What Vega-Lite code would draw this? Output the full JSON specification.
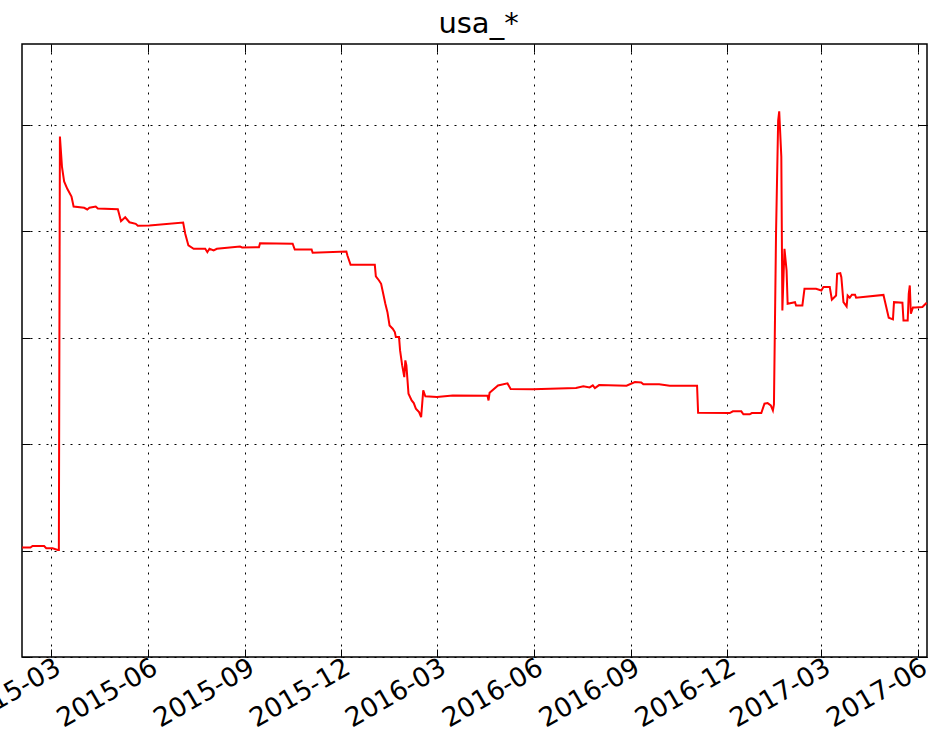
{
  "$schema": "https://vega.github.io/schema/vega-lite/v6.json",
  "width": 905,
  "height": 613,
  "autosize": {"type": "none"},
  "padding": {"left": 22, "top": 44, "right": 8, "bottom": 75},
  "background": "white",
  "title": {"text": "usa_*", "fontSize": 29, "font": "DejaVu Sans", "fontWeight": "normal", "color": "black", "anchor": "middle", "baseline": "alphabetic", "offset": -18, "dx": 4, "frame": "group"},
  "config": {
    "view": {"stroke": "black", "strokeWidth": 1.5},
    "axis": {"domain": false, "labelFont": "DejaVu Sans", "labelFontSize": 26.5, "labelColor": "black", "tickColor": "black", "tickWidth": 1, "tickSize": -8, "gridColor": "black", "gridOpacity": 1, "gridWidth": 1, "gridDash": [2, 6], "title": null}
  },
  "data": {"values": [
    {"date": "2015-02-01", "value": 1.028},
    {"date": "2015-02-09", "value": 1.028},
    {"date": "2015-02-11", "value": 1.043},
    {"date": "2015-02-22", "value": 1.043},
    {"date": "2015-02-24", "value": 1.022},
    {"date": "2015-03-02", "value": 1.022},
    {"date": "2015-03-07", "value": 1.006},
    {"date": "2015-03-08", "value": 1.006},
    {"date": "2015-03-09", "value": 4.890},
    {"date": "2015-03-11", "value": 4.602},
    {"date": "2015-03-13", "value": 4.468},
    {"date": "2015-03-16", "value": 4.399},
    {"date": "2015-03-20", "value": 4.327},
    {"date": "2015-03-22", "value": 4.233},
    {"date": "2015-04-01", "value": 4.221},
    {"date": "2015-04-04", "value": 4.205},
    {"date": "2015-04-06", "value": 4.221},
    {"date": "2015-04-12", "value": 4.233},
    {"date": "2015-04-14", "value": 4.214},
    {"date": "2015-05-03", "value": 4.208},
    {"date": "2015-05-06", "value": 4.095},
    {"date": "2015-05-10", "value": 4.132},
    {"date": "2015-05-14", "value": 4.085},
    {"date": "2015-05-20", "value": 4.070},
    {"date": "2015-05-22", "value": 4.052},
    {"date": "2015-06-02", "value": 4.054},
    {"date": "2015-07-04", "value": 4.083},
    {"date": "2015-07-06", "value": 3.977},
    {"date": "2015-07-09", "value": 3.867},
    {"date": "2015-07-14", "value": 3.836},
    {"date": "2015-07-25", "value": 3.836},
    {"date": "2015-07-27", "value": 3.804},
    {"date": "2015-07-29", "value": 3.836},
    {"date": "2015-08-02", "value": 3.820},
    {"date": "2015-08-05", "value": 3.836},
    {"date": "2015-08-27", "value": 3.857},
    {"date": "2015-08-29", "value": 3.848},
    {"date": "2015-09-14", "value": 3.851},
    {"date": "2015-09-15", "value": 3.888},
    {"date": "2015-10-16", "value": 3.883},
    {"date": "2015-10-18", "value": 3.829},
    {"date": "2015-11-03", "value": 3.829},
    {"date": "2015-11-04", "value": 3.798},
    {"date": "2015-12-06", "value": 3.810},
    {"date": "2015-12-07", "value": 3.773},
    {"date": "2015-12-10", "value": 3.685},
    {"date": "2016-01-02", "value": 3.685},
    {"date": "2016-01-03", "value": 3.576},
    {"date": "2016-01-06", "value": 3.538},
    {"date": "2016-01-08", "value": 3.507},
    {"date": "2016-01-10", "value": 3.413},
    {"date": "2016-01-12", "value": 3.319},
    {"date": "2016-01-14", "value": 3.240},
    {"date": "2016-01-16", "value": 3.115},
    {"date": "2016-01-19", "value": 3.085},
    {"date": "2016-01-21", "value": 3.053},
    {"date": "2016-01-22", "value": 3.006},
    {"date": "2016-01-25", "value": 3.006},
    {"date": "2016-01-26", "value": 2.881},
    {"date": "2016-01-28", "value": 2.740},
    {"date": "2016-01-30", "value": 2.630},
    {"date": "2016-01-31", "value": 2.787},
    {"date": "2016-02-01", "value": 2.740},
    {"date": "2016-02-03", "value": 2.474},
    {"date": "2016-02-06", "value": 2.411},
    {"date": "2016-02-08", "value": 2.386},
    {"date": "2016-02-10", "value": 2.333},
    {"date": "2016-02-13", "value": 2.301},
    {"date": "2016-02-15", "value": 2.254},
    {"date": "2016-02-17", "value": 2.505},
    {"date": "2016-02-19", "value": 2.449},
    {"date": "2016-03-01", "value": 2.442},
    {"date": "2016-03-16", "value": 2.458},
    {"date": "2016-04-18", "value": 2.454},
    {"date": "2016-04-19", "value": 2.411},
    {"date": "2016-04-20", "value": 2.482},
    {"date": "2016-04-28", "value": 2.552},
    {"date": "2016-05-07", "value": 2.571},
    {"date": "2016-05-10", "value": 2.519},
    {"date": "2016-05-31", "value": 2.515},
    {"date": "2016-07-11", "value": 2.527},
    {"date": "2016-07-18", "value": 2.543},
    {"date": "2016-07-24", "value": 2.533},
    {"date": "2016-07-27", "value": 2.552},
    {"date": "2016-07-29", "value": 2.527},
    {"date": "2016-08-02", "value": 2.555},
    {"date": "2016-08-28", "value": 2.549},
    {"date": "2016-09-05", "value": 2.583},
    {"date": "2016-09-11", "value": 2.580},
    {"date": "2016-09-13", "value": 2.562},
    {"date": "2016-09-28", "value": 2.562},
    {"date": "2016-10-08", "value": 2.549},
    {"date": "2016-11-03", "value": 2.549},
    {"date": "2016-11-04", "value": 2.294},
    {"date": "2016-12-04", "value": 2.292},
    {"date": "2016-12-07", "value": 2.308},
    {"date": "2016-12-15", "value": 2.308},
    {"date": "2016-12-17", "value": 2.280},
    {"date": "2016-12-23", "value": 2.280},
    {"date": "2016-12-25", "value": 2.292},
    {"date": "2017-01-03", "value": 2.292},
    {"date": "2017-01-06", "value": 2.380},
    {"date": "2017-01-09", "value": 2.386},
    {"date": "2017-01-12", "value": 2.364},
    {"date": "2017-01-14", "value": 2.317},
    {"date": "2017-01-15", "value": 2.374},
    {"date": "2017-01-17", "value": 3.989},
    {"date": "2017-01-19", "value": 5.040},
    {"date": "2017-01-20", "value": 5.128},
    {"date": "2017-01-22", "value": 4.702},
    {"date": "2017-01-23", "value": 3.256},
    {"date": "2017-01-25", "value": 3.836},
    {"date": "2017-01-27", "value": 3.632},
    {"date": "2017-01-28", "value": 3.319},
    {"date": "2017-02-04", "value": 3.334},
    {"date": "2017-02-05", "value": 3.303},
    {"date": "2017-02-11", "value": 3.303},
    {"date": "2017-02-13", "value": 3.460},
    {"date": "2017-02-24", "value": 3.460},
    {"date": "2017-03-01", "value": 3.444},
    {"date": "2017-03-03", "value": 3.477},
    {"date": "2017-03-09", "value": 3.477},
    {"date": "2017-03-11", "value": 3.357},
    {"date": "2017-03-15", "value": 3.397},
    {"date": "2017-03-16", "value": 3.601},
    {"date": "2017-03-19", "value": 3.607},
    {"date": "2017-03-20", "value": 3.569},
    {"date": "2017-03-22", "value": 3.334},
    {"date": "2017-03-25", "value": 3.294},
    {"date": "2017-03-26", "value": 3.397},
    {"date": "2017-03-28", "value": 3.376},
    {"date": "2017-03-30", "value": 3.404},
    {"date": "2017-04-02", "value": 3.404},
    {"date": "2017-04-03", "value": 3.376},
    {"date": "2017-04-29", "value": 3.402},
    {"date": "2017-05-04", "value": 3.188},
    {"date": "2017-05-08", "value": 3.172},
    {"date": "2017-05-09", "value": 3.334},
    {"date": "2017-05-17", "value": 3.329},
    {"date": "2017-05-18", "value": 3.162},
    {"date": "2017-05-22", "value": 3.162},
    {"date": "2017-05-23", "value": 3.413},
    {"date": "2017-05-24", "value": 3.491},
    {"date": "2017-05-25", "value": 3.225},
    {"date": "2017-05-27", "value": 3.285},
    {"date": "2017-05-29", "value": 3.285},
    {"date": "2017-06-05", "value": 3.289},
    {"date": "2017-06-09", "value": 3.329}
  ]},
  "layer": [
    {
      "mark": {"type": "line", "color": "#ff0000", "strokeWidth": 2},
      "encoding": {
        "x": {"field": "date", "type": "temporal",
          "scale": {"type": "utc", "nice": false, "domain": [{"year": 2015, "month": 2, "date": 1, "utc": true}, {"year": 2017, "month": 6, "date": 9, "hours": 8, "utc": true}]},
          "axis": {"orient": "bottom", "grid": true, "format": "%Y-%m", "labelAngle": -30, "labelAlign": "right", "labelBaseline": "top", "labelPadding": 5, "labelOverlap": false, "labelBound": false, "labelFlush": false,
            "values": [
              {"year": 2015, "month": 3, "date": 1, "utc": true},
              {"year": 2015, "month": 6, "date": 1, "utc": true},
              {"year": 2015, "month": 9, "date": 1, "utc": true},
              {"year": 2015, "month": 12, "date": 1, "utc": true},
              {"year": 2016, "month": 3, "date": 1, "utc": true},
              {"year": 2016, "month": 6, "date": 1, "utc": true},
              {"year": 2016, "month": 9, "date": 1, "utc": true},
              {"year": 2016, "month": 12, "date": 1, "utc": true},
              {"year": 2017, "month": 3, "date": 1, "utc": true},
              {"year": 2017, "month": 6, "date": 1, "utc": true}
            ]}},
        "y": {"field": "value", "type": "quantitative",
          "scale": {"domain": [0, 5.76], "nice": false, "zero": false},
          "axis": {"orient": "left", "grid": true, "labels": false, "values": [0, 1, 2, 3, 4, 5]}}
      }
    },
    {
      "mark": {"type": "line", "opacity": 0},
      "encoding": {
        "x": {"field": "date", "type": "temporal",
          "axis": {"orient": "top", "grid": false, "labels": false, "minExtent": 0, "maxExtent": 0,
            "values": [
              {"year": 2015, "month": 3, "date": 1, "utc": true},
              {"year": 2015, "month": 6, "date": 1, "utc": true},
              {"year": 2015, "month": 9, "date": 1, "utc": true},
              {"year": 2015, "month": 12, "date": 1, "utc": true},
              {"year": 2016, "month": 3, "date": 1, "utc": true},
              {"year": 2016, "month": 6, "date": 1, "utc": true},
              {"year": 2016, "month": 9, "date": 1, "utc": true},
              {"year": 2016, "month": 12, "date": 1, "utc": true},
              {"year": 2017, "month": 3, "date": 1, "utc": true},
              {"year": 2017, "month": 6, "date": 1, "utc": true}
            ]}},
        "y": {"field": "value", "type": "quantitative",
          "axis": {"orient": "right", "grid": false, "labels": false, "minExtent": 0, "maxExtent": 0, "values": [0, 1, 2, 3, 4, 5]}}
      }
    }
  ],
  "resolve": {"axis": {"x": "independent", "y": "independent"}}
}
